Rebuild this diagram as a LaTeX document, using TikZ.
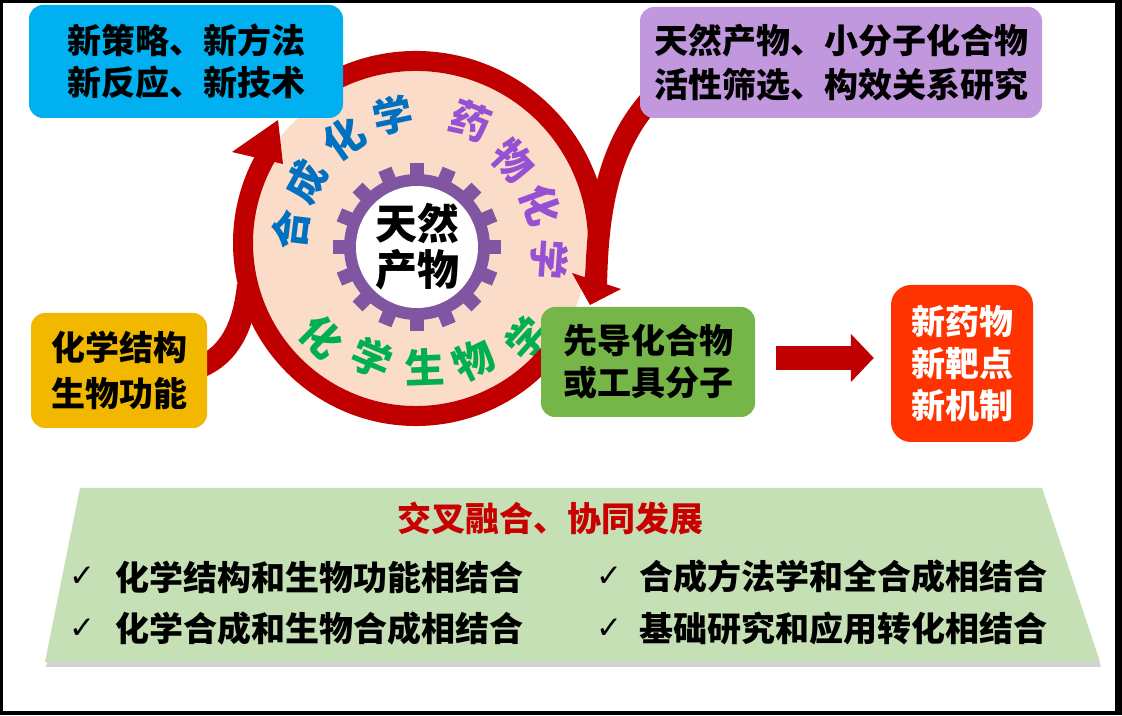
\documentclass[tikz,border=0pt]{standalone}
\usepackage{fontspec}
\setmainfont{Noto Sans CJK SC}
\newfontfamily\symfont{DejaVu Sans}
\usetikzlibrary{arrows.meta,shadows}
\definecolor{ringred}{RGB}{192,0,0}
\definecolor{peach}{RGB}{250,220,200}
\definecolor{boxblue}{RGB}{0,176,240}
\definecolor{boxpurple}{RGB}{193,152,222}
\definecolor{boxyellow}{RGB}{242,184,0}
\definecolor{boxgreen}{RGB}{118,181,72}
\definecolor{boxorange}{RGB}{255,51,0}
\definecolor{trapgreen}{RGB}{197,224,180}
\definecolor{txtblue}{RGB}{0,112,192}
\definecolor{txtpurple}{RGB}{150,80,210}
\definecolor{txtgreen}{RGB}{0,176,80}
\definecolor{gearpurple}{RGB}{128,86,162}
\definecolor{titlered}{RGB}{200,0,0}
\begin{document}
\begin{tikzpicture}[x=1pt,y=1pt,
  box/.style={rounded corners=14pt, inner sep=0pt, align=center, font=\fontsize{34}{42}\selectfont\bfseries},
  ring/.style={draw=ringred, line width=20pt},
  ringchar/.style={inner sep=0pt, text height=32pt, text depth=3pt, text width=35pt, align=center, font=\fontsize{40}{40}\selectfont\bfseries},
  item/.style={anchor=west, inner sep=0pt, font=\fontsize{34}{40}\selectfont\bfseries},
  tick/.style={inner sep=0pt, font=\fontsize{31}{31}\selectfont\symfont},
]
\fill[black] (0,0) rectangle (1122,715);
\fill[white] (3,4) rectangle (1115,712);
\useasboundingbox (0,0) rectangle (1122,715);

\coordinate (C) at (416,472);
\coordinate (G) at (417,468);
\fill[peach] (C) circle[radius=172];
% gear
\fill[gearpurple] (G) circle[radius=73];
\begin{scope}[shift={(G)}]
\foreach \a in {0,22.5,...,337.5} \fill[gearpurple,rotate=\a] (-7,66) rectangle (7,84);
\end{scope}
\fill[white] (G) circle[radius=61];
\node[font=\fontsize{42}{46}\selectfont\bfseries, align=center, inner sep=0pt] (np) at (G) {天然\\产物};

% ring texts
\node[ringchar, text=txtblue, rotate=83] (s1) at (291,483) {合};
\node[ringchar, text=txtblue, rotate=61] (s2) at (305,531) {成};
\node[ringchar, text=txtblue, rotate=35] (s3) at (343,574) {化};
\node[ringchar, text=txtblue, rotate=12] (s4) at (391,598) {学};
\node[ringchar, text=txtpurple, rotate=-22] (m1) at (468,594) {药};
\node[ringchar, text=txtpurple, rotate=-47] (m2) at (511,556) {物};
\node[ringchar, text=txtpurple, rotate=-70] (m3) at (539,512) {化};
\node[ringchar, text=txtpurple, rotate=-94] (m4) at (549,458) {学};
\node[ringchar, text=txtgreen, rotate=-45] (b1) at (319,379) {化};
\node[ringchar, text=txtgreen, rotate=-23] (b2) at (369,357) {学};
\node[ringchar, text=txtgreen, rotate=2] (b3) at (422,347) {生};
\node[ringchar, text=txtgreen, rotate=26] (b4) at (472,353) {物};
\node[ringchar, text=txtgreen, rotate=48] (b5) at (525,374) {学};

% red circular arrows
\draw[ring] (C) ++(118:182) arc[start angle=118, end angle=-14, radius=182];
\draw[ring, line width=22pt] (655,620) .. controls (612,575) and (597,515) .. (596,425);
\fill[ringred] (590,410) -- (572,442) -- (621,426) -- cycle;
\draw[ring] (C) ++(-30:173) arc[start angle=-30, end angle=-212, radius=173];
\draw[ring, line width=22pt] (200,348) .. controls (230,360) and (244,390) .. (248,430);
\fill[ringred] (278,595) -- (232,563) -- (283,551) -- cycle;

% boxes
\node[box, fill=boxblue, minimum width=314pt, minimum height=113pt] (nb) at (186,653.5) {新策略、新方法\\新反应、新技术};
\node[box, fill=boxpurple, minimum width=402pt, minimum height=111pt, font=\fontsize{34}{44}\selectfont\bfseries] (npu) at (841,652.5) {天然产物、小分子化合物\\活性筛选、构效关系研究};
\node[box, fill=boxyellow, minimum width=176pt, minimum height=115pt, font=\fontsize{34}{46}\selectfont\bfseries] (ny) at (119,344.5) {化学结构\\生物功能};
\node[box, fill=boxgreen, minimum width=214pt, minimum height=110pt] (ng) at (648,353) {先导化合物\\或工具分子};
\node[box, fill=boxorange, text=white, rounded corners=20pt, minimum width=142pt, minimum height=157pt] (no) at (962,351.5) {新药物\\新靶点\\新机制};
\draw[ringred, line width=24pt, -{Triangle[length=23pt,width=47pt]}, shorten <=21pt, shorten >=17pt] ([yshift=4pt]ng.east) -- ([yshift=5.5pt]no.west);

% bottom panel
\fill[trapgreen, drop shadow={shadow xshift=1pt, shadow yshift=-5pt, opacity=0.35}] (80,227) -- (1042,227) -- (1100,53) -- (45,53) -- cycle;
\node[inner sep=0pt, text=titlered, font=\fontsize{34}{40}\selectfont\bfseries] (title) at (550,197) {交叉融合、协同发展};
\node[tick] (k1) at (82,138) {✓};
\node[item] (t1) at (115,138) {化学结构和生物功能相结合};
\node[tick] (k2) at (82,86) {✓};
\node[item] (t2) at (115,86) {化学合成和生物合成相结合};
\node[tick] (k3) at (609,138) {✓};
\node[item] (t3) at (639,138) {合成方法学和全合成相结合};
\node[tick] (k4) at (609,86) {✓};
\node[item] (t4) at (639,86) {基础研究和应用转化相结合};
\end{tikzpicture}
\end{document}
